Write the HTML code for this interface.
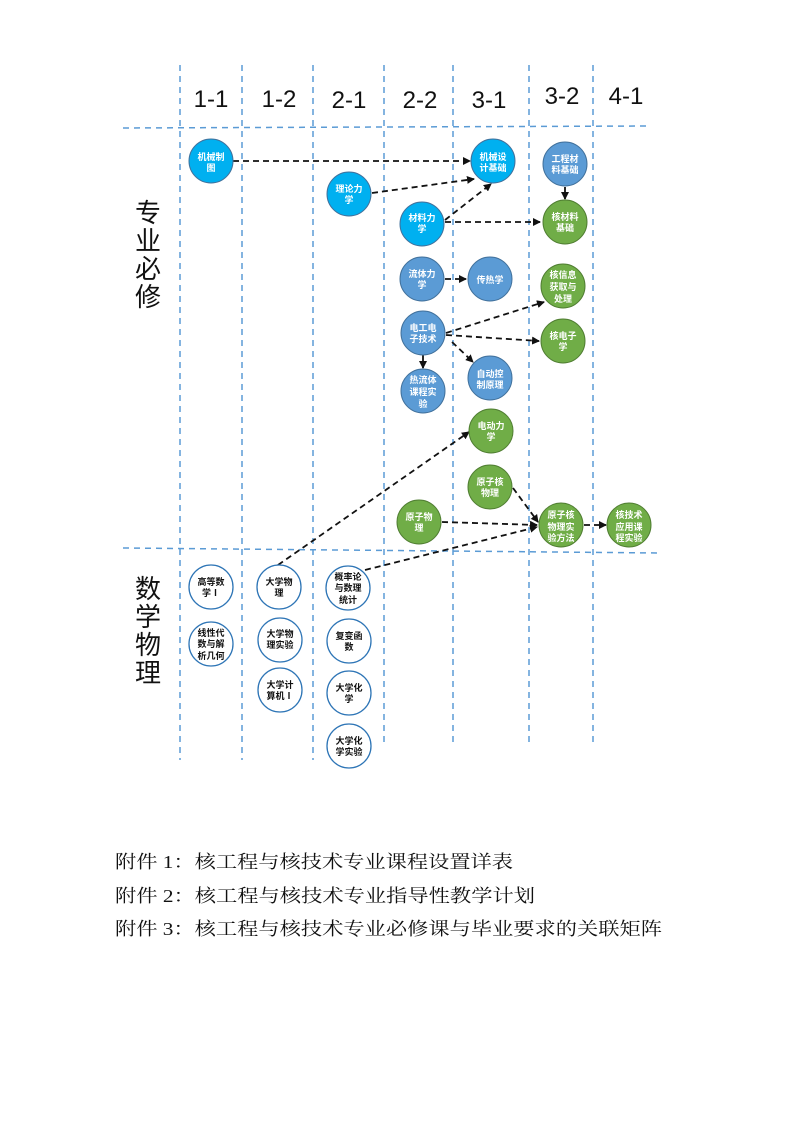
<!DOCTYPE html>
<html><head><meta charset="utf-8"><style>
html,body{margin:0;padding:0;background:#fff;}
svg{display:block;}
.h{font-family:"Liberation Sans",sans-serif;font-size:24px;fill:#111;text-anchor:middle;}
.n{font-family:"Liberation Sans","Noto Sans CJK SC",sans-serif;font-size:9px;font-weight:bold;fill:#fff;text-anchor:middle;}
.m{font-family:"Liberation Sans","Noto Sans CJK SC",sans-serif;font-size:9px;font-weight:bold;fill:#111;text-anchor:middle;}
.side{font-family:"Liberation Sans","Noto Sans CJK SC",sans-serif;font-size:26px;fill:#111;text-anchor:middle;}
.ft{font-family:"Liberation Serif","Noto Serif CJK SC",serif;font-size:18px;fill:#111;}
</style></head><body>
<svg width="794" height="1123" viewBox="0 0 794 1123" xmlns="http://www.w3.org/2000/svg">
<defs>
<marker id="a" markerWidth="8" markerHeight="8" refX="7" refY="4" orient="auto" markerUnits="userSpaceOnUse"><path d="M0,0 L8,4 L0,8 z" fill="#111"/></marker>
</defs>
<g stroke="#5B9BD5" stroke-width="1.5" stroke-dasharray="6,5" fill="none">
<line x1="180" y1="65" x2="180" y2="760"/>
<line x1="242" y1="65" x2="242" y2="760"/>
<line x1="313" y1="65" x2="313" y2="760"/>
<line x1="384" y1="65" x2="384" y2="745"/>
<line x1="453" y1="65" x2="453" y2="745"/>
<line x1="529" y1="65" x2="529" y2="745"/>
<line x1="593" y1="65" x2="593" y2="745"/>
<line x1="123" y1="128" x2="650" y2="126"/>
<line x1="123" y1="548" x2="660" y2="553"/>
</g>
<text class="h" x="211" y="107">1-1</text>
<text class="h" x="279" y="107">1-2</text>
<text class="h" x="349" y="108">2-1</text>
<text class="h" x="420" y="108">2-2</text>
<text class="h" x="489" y="108">3-1</text>
<text class="h" x="562" y="104">3-2</text>
<text class="h" x="626" y="104">4-1</text>
<text class="side" x="148" y="222">专</text><text class="side" x="148" y="250">业</text><text class="side" x="148" y="278">必</text><text class="side" x="148" y="306">修</text>
<text class="side" x="148" y="598">数</text><text class="side" x="148" y="626">学</text><text class="side" x="148" y="654">物</text><text class="side" x="148" y="682">理</text>

<g stroke="#111" stroke-width="1.8" stroke-dasharray="6,4" fill="none" marker-end="url(#a)">
<line x1="233" y1="161" x2="470" y2="161"/>
<line x1="372" y1="193" x2="474" y2="179"/>
<line x1="445" y1="220" x2="491" y2="184"/>
<line x1="445" y1="222" x2="540" y2="222"/>
<line x1="445" y1="279" x2="466" y2="279"/>
<line x1="446" y1="333" x2="544" y2="302"/>
<line x1="446" y1="335" x2="539" y2="341"/>
<line x1="452" y1="342" x2="473" y2="362"/>
<line x1="278" y1="565" x2="469" y2="432"/>
<line x1="513" y1="488" x2="538" y2="522"/>
<line x1="442" y1="522" x2="537" y2="525"/>
<line x1="365" y1="570" x2="537" y2="527"/>
<line x1="584" y1="525" x2="606" y2="525"/>
</g>
<g stroke="#111" stroke-width="1.8" fill="none" marker-end="url(#a)">
<line x1="565" y1="187" x2="565" y2="199"/>
<line x1="423" y1="355" x2="423" y2="368"/>
</g>

<g stroke="#41719C" stroke-width="1">
<circle cx="211" cy="161" r="22" fill="#00B0F0"/>
<circle cx="493" cy="161" r="22" fill="#00B0F0"/>
<circle cx="349" cy="194" r="22" fill="#00B0F0"/>
<circle cx="422" cy="224" r="22" fill="#00B0F0"/>
<circle cx="565" cy="164" r="22" fill="#5B9BD5"/>
<circle cx="422" cy="279" r="22" fill="#5B9BD5"/>
<circle cx="490" cy="279" r="22" fill="#5B9BD5"/>
<circle cx="423" cy="333" r="22" fill="#5B9BD5"/>
<circle cx="423" cy="391" r="22" fill="#5B9BD5"/>
<circle cx="490" cy="378" r="22" fill="#5B9BD5"/>
</g>
<g stroke="#507E32" stroke-width="1" fill="#70AD47">
<circle cx="565" cy="222" r="22"/>
<circle cx="563" cy="286" r="22"/>
<circle cx="563" cy="341" r="22"/>
<circle cx="491" cy="431" r="22"/>
<circle cx="490" cy="487" r="22"/>
<circle cx="419" cy="522" r="22"/>
<circle cx="561" cy="525" r="22"/>
<circle cx="629" cy="525" r="22"/>
</g>
<g stroke="#2E75B6" stroke-width="1.3" fill="#fff">
<circle cx="211" cy="587" r="22"/>
<circle cx="211" cy="644" r="22"/>
<circle cx="279" cy="587" r="22"/>
<circle cx="280" cy="640" r="22"/>
<circle cx="280" cy="690" r="22"/>
<circle cx="348" cy="588" r="22"/>
<circle cx="349" cy="641" r="22"/>
<circle cx="349" cy="693" r="22"/>
<circle cx="349" cy="746" r="22"/>
</g>

<text class="n" x="211" y="160">机械制</text><text class="n" x="211" y="171">图</text>
<text class="n" x="493" y="160">机械设</text><text class="n" x="493" y="171">计基础</text>
<text class="n" x="349" y="192">理论力</text><text class="n" x="349" y="203">学</text>
<text class="n" x="422" y="221">材料力</text><text class="n" x="422" y="232">学</text>
<text class="n" x="565" y="162">工程材</text><text class="n" x="565" y="173">料基础</text>
<text class="n" x="565" y="220">核材料</text><text class="n" x="565" y="231">基础</text>
<text class="n" x="422" y="277">流体力</text><text class="n" x="422" y="288">学</text>
<text class="n" x="490" y="283">传热学</text>
<text class="n" x="563" y="278">核信息</text><text class="n" x="563" y="290">获取与</text><text class="n" x="563" y="302">处理</text>
<text class="n" x="423" y="331">电工电</text><text class="n" x="423" y="342">子技术</text>
<text class="n" x="563" y="339">核电子</text><text class="n" x="563" y="350">学</text>
<text class="n" x="423" y="383">热流体</text><text class="n" x="423" y="395">课程实</text><text class="n" x="423" y="407">验</text>
<text class="n" x="490" y="377">自动控</text><text class="n" x="490" y="388">制原理</text>
<text class="n" x="491" y="429">电动力</text><text class="n" x="491" y="440">学</text>
<text class="n" x="490" y="485">原子核</text><text class="n" x="490" y="496">物理</text>
<text class="n" x="419" y="520">原子物</text><text class="n" x="419" y="531">理</text>
<text class="n" x="561" y="518">原子核</text><text class="n" x="561" y="530">物理实</text><text class="n" x="561" y="541">验方法</text>
<text class="n" x="629" y="518">核技术</text><text class="n" x="629" y="530">应用课</text><text class="n" x="629" y="541">程实验</text>

<text class="m" x="211" y="585">高等数</text><text class="m" x="211" y="596">学Ⅰ</text>
<text class="m" x="211" y="636">线性代</text><text class="m" x="211" y="647">数与解</text><text class="m" x="211" y="659">析几何</text>
<text class="m" x="279" y="585">大学物</text><text class="m" x="279" y="596">理</text>
<text class="m" x="280" y="637">大学物</text><text class="m" x="280" y="648">理实验</text>
<text class="m" x="280" y="688">大学计</text><text class="m" x="280" y="699">算机Ⅰ</text>
<text class="m" x="348" y="580">概率论</text><text class="m" x="348" y="591">与数理</text><text class="m" x="348" y="603">统计</text>
<text class="m" x="349" y="639">复变函</text><text class="m" x="349" y="650">数</text>
<text class="m" x="349" y="691">大学化</text><text class="m" x="349" y="702">学</text>
<text class="m" x="349" y="744">大学化</text><text class="m" x="349" y="755">学实验</text>

<text class="ft" x="115" y="868" textLength="398" lengthAdjust="spacingAndGlyphs">附件 1：核工程与核技术专业课程设置详表</text>
<text class="ft" x="115" y="902" textLength="420" lengthAdjust="spacingAndGlyphs">附件 2：核工程与核技术专业指导性教学计划</text>
<text class="ft" x="115" y="935" textLength="547" lengthAdjust="spacingAndGlyphs">附件 3：核工程与核技术专业必修课与毕业要求的关联矩阵</text>
</svg>
</body></html>
